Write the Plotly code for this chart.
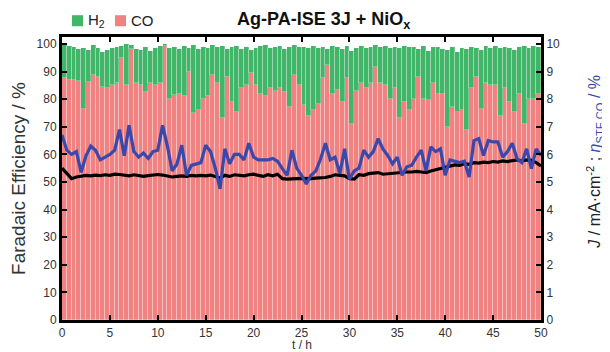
import plotly.graph_objects as go

# ---- data ----
co_fe = [87.5, 87, 87, 86.5, 76.5, 86.3, 88.7, 88, 84.5, 84,
         85, 86, 95, 85, 98, 86, 85, 82.7, 86, 85,
         86, 100, 80, 81.5, 82, 81, 90, 74.8, 76, 80,
         81, 88.7, 86, 73, 88, 79, 75.4, 84, 85, 89.3,
         85, 82, 81, 84, 83, 84, 82.7, 77, 88.7, 85,
         77.8, 74, 76, 78.4, 87.5, 92.4, 82, 83.3, 79, 87.5,
         71, 83, 86, 84, 85.7, 91.8, 86, 85, 80, 84,
         73, 79, 76, 80, 88, 80, 79.6, 86, 82, 82,
         70, 77, 75.4, 76, 68.7, 84, 88, 76.6, 85.7, 85,
         85, 74, 84, 79, 75.4, 82, 71, 80, 80, 82]

total_fe = [99.6, 99.2, 98.9, 98.0, 98.6, 97.8, 99.5, 98.4, 97.2, 97.9,
            98.6, 99.0, 99.4, 100, 99.6, 98.3, 97.8, 99.0, 97.4, 98.5,
            99.2, 99.3, 98.5, 99.0, 98.2, 99.3, 98.6, 99.5, 98.0, 99.0,
            98.4, 99.6, 98.8, 99.3, 98.0, 98.8, 99.1, 98.2, 99.0, 97.8,
            98.6, 99.2, 99.5, 98.5, 98.9, 99.4, 98.1, 98.7, 99.6, 98.8,
            99.0, 98.4, 99.2, 98.6, 99.0, 98.3, 99.2, 98.7, 98.0, 99.4,
            97.5, 98.6, 99.1, 98.4, 99.0, 99.5, 98.8, 99.2, 98.6, 99.0,
            98.5, 99.3, 98.8, 99.0, 98.2, 99.1, 97.6, 98.7, 99.0, 98.3,
            97.8, 98.9, 97.2, 98.6, 98.0, 99.0, 98.4, 97.7, 99.1, 98.5,
            99.2, 98.4, 99.0, 98.6, 97.8, 98.9, 99.3, 98.4, 99.1, 98.8]

blue_eta = [6.7, 6.15, 6.0, 6.1, 5.35, 5.95, 6.3, 6.15, 5.8, 5.9,
            6.0, 6.15, 6.9, 5.95, 7.05, 6.1, 5.9, 6.05, 5.85, 6.1,
            6.15, 7.05, 6.3, 5.4, 5.65, 6.33, 5.24, 5.6, 5.66, 5.7,
            6.33, 6.1, 5.5, 4.75, 6.2, 5.66, 6.0, 6.0, 5.8, 6.4,
            5.9, 5.8, 5.8, 5.8, 5.85, 5.75, 5.48, 5.24, 6.15, 5.5,
            5.24, 4.93, 5.24, 5.4, 5.84, 6.4, 5.8, 5.9, 5.3, 6.2,
            5.1, 5.4, 5.5, 6.15, 5.9, 6.1, 6.57, 6.2, 5.96, 5.66,
            5.9, 5.24, 5.55, 5.6, 5.9, 6.15, 5.4, 6.27, 6.1, 6.2,
            5.24, 5.8, 5.75, 5.7, 5.75, 5.18, 6.5, 6.57, 5.96, 6.5,
            6.45, 6.45, 5.9, 6.1, 6.4, 5.84, 5.7, 6.2, 5.48, 6.2, 5.96]

black_j = [5.5, 5.3, 5.12, 5.18, 5.2, 5.24, 5.22, 5.25, 5.23, 5.26,
           5.24, 5.28, 5.27, 5.24, 5.22, 5.26, 5.24, 5.2, 5.23, 5.26,
           5.27, 5.25, 5.2, 5.18, 5.2, 5.22, 5.2, 5.24, 5.22, 5.24,
           5.22, 5.25, 5.2, 5.14, 5.24, 5.2, 5.26, 5.24, 5.22, 5.26,
           5.28, 5.24, 5.2, 5.26, 5.22, 5.28, 5.12, 5.1, 5.1, 5.12,
           5.13, 5.12, 5.12, 5.14, 5.14, 5.16, 5.2, 5.26, 5.24, 5.22,
           5.12, 5.1, 5.26, 5.24, 5.3, 5.32, 5.34, 5.28, 5.3, 5.32,
           5.32, 5.34, 5.36, 5.36, 5.38, 5.36, 5.34, 5.4, 5.45, 5.5,
           5.55, 5.6, 5.62, 5.6, 5.66, 5.64, 5.7, 5.68, 5.72, 5.7,
           5.74, 5.72, 5.76, 5.74, 5.78, 5.8, 5.76, 5.8, 5.78, 5.7, 5.58]

bar_t = [0.25 + 0.5 * i for i in range(len(co_fe))]
line_t = [0.5 * i for i in range(len(black_j))]
h2_fe = [t - c for t, c in zip(total_fe, co_fe)]

x_ticks = [0, 5, 10, 15, 20, 25, 30, 35, 40, 45, 50]
y_ticks = [0, 10, 20, 30, 40, 50, 60, 70, 80, 90, 100]
y2_ticks = [0, 1, 2, 3, 4, 5, 6, 7, 8, 9, 10]

GREEN = "rgb(66,182,104)"
PINK = "rgb(241,130,130)"
BLUE = "rgb(58,72,172)"
FONT = "Liberation Sans, Arial, sans-serif"

fig = go.Figure()
fig.add_trace(go.Bar(x=bar_t, y=co_fe, width=0.5, name="CO", showlegend=False,
                     marker=dict(color=PINK, line=dict(color="rgba(255,255,255,0.45)", width=0.6))))
fig.add_trace(go.Bar(x=bar_t, y=h2_fe, width=0.5, name="H<sub>2</sub>", showlegend=False,
                     marker=dict(color=GREEN, line=dict(color="rgba(255,255,255,0.45)", width=0.6))))
fig.add_trace(go.Scatter(x=line_t, y=black_j, yaxis="y2", mode="lines",
                         line=dict(color="black", width=3.2), showlegend=False))
fig.add_trace(go.Scatter(x=line_t, y=blue_eta, yaxis="y2", mode="lines",
                         line=dict(color=BLUE, width=3.2), showlegend=False))

# page body adds an 8px margin, so the figure is sized to fit the 610x352 window
fig.update_layout(
    width=602, height=344,
    margin=dict(l=54, r=69, t=29, b=32, autoexpand=False),
    paper_bgcolor="white", plot_bgcolor="white",
    barmode="stack", bargap=0,
    font=dict(family=FONT, color="#333", size=12),
    xaxis=dict(range=[0, 50], tickvals=x_ticks, ticks="inside", ticklen=5, tickwidth=2,
               tickcolor="black", showline=True, linecolor="black", linewidth=3,
               mirror="ticks", showgrid=False, zeroline=False, automargin=False),
    yaxis=dict(range=[0, 102.5], tickvals=y_ticks, ticks="inside", ticklen=5, tickwidth=2,
               tickcolor="black", showline=True, linecolor="black", linewidth=3,
               showgrid=False, zeroline=False, automargin=False,
               title=dict(text="Faradaic Efficiency / %", font=dict(size=19, color="#333"),
                          standoff=10)),
    yaxis2=dict(range=[0, 10.25], tickvals=y2_ticks, overlaying="y", side="right",
                ticks="inside", ticklen=5, tickwidth=2, tickcolor="black", automargin=False,
                showline=True, linecolor="black", linewidth=3, showgrid=False, zeroline=False),
)

# x axis title
fig.add_annotation(text="t / h", xref="paper", yref="paper", x=0.5, y=-0.088,
                   xanchor="center", yanchor="middle", showarrow=False,
                   font=dict(size=12, color="#333", family=FONT))

# right axis title (two colours)
fig.add_annotation(text="<span style='color:#222'><i>J</i> / mA·cm<sup>-2</sup> ; </span>"
                        "<span style='color:rgb(58,72,172)'><i>η</i><sub>STF CO</sub> / %</span>",
                   xref="paper", yref="paper", x=1.111, y=0.56, textangle=-90,
                   xanchor="center", yanchor="middle", showarrow=False,
                   font=dict(size=16, family=FONT))

# legend (squares + labels)
for x0, x1, col in [(0.0209, 0.0438, GREEN), (0.1106, 0.1336, PINK)]:
    fig.add_shape(type="rect", xref="paper", yref="paper", x0=x0, x1=x1,
                  y0=1.038, y1=1.077, fillcolor=col, line=dict(width=0))
fig.add_annotation(text="H<sub>2</sub>", xref="paper", yref="paper", x=0.050, y=1.057,
                   xanchor="left", yanchor="middle", showarrow=False,
                   font=dict(size=15, color="#222", family=FONT))
fig.add_annotation(text="CO", xref="paper", yref="paper", x=0.139, y=1.057,
                   xanchor="left", yanchor="middle", showarrow=False,
                   font=dict(size=15, color="#222", family=FONT))

fig.add_annotation(text="<b>Ag-PA-ISE 3J + NiO<sub>x</sub></b>", xref="paper", yref="paper",
                   x=0.545, y=1.057, xanchor="center", yanchor="middle", showarrow=False,
                   font=dict(size=18, color="#111", family=FONT))

fig.write_html("out.html")
